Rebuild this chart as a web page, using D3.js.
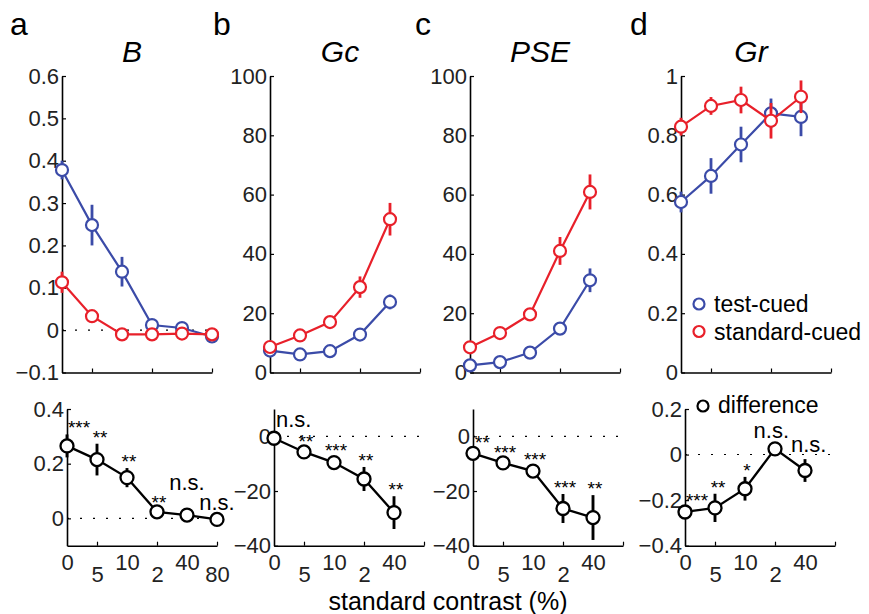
<!DOCTYPE html>
<html>
<head>
<meta charset="utf-8">
<script src="https://cdn.jsdelivr.net/npm/d3@7"></script>
<style>
body { margin: 0; background: #fff; }
svg { font-family: "Liberation Sans", Arial, Helvetica, sans-serif; }
</style>
</head>
<body>
<svg id="chart" width="869" height="614"></svg>
<script>
// standard contrast tick labels (as printed)
const contrastLabelsA = ["0", "5", "10", "2", "40", "80"]
const contrastLabels = ["0", "5", "10", "2", "40"]

// a: B
const testB = [0.378, 0.248, 0.138, 0.012, 0.005, -0.015]
const testBErr = [0.022, 0.048, 0.035, 0.008, 0.006, 0.006]
const stdB = [0.113, 0.033, -0.010, -0.010, -0.008, -0.010]
const stdBErr = [0.025, 0.008, 0.006, 0.006, 0.006, 0.006]
const diffB = [0.265, 0.215, 0.149, 0.024, 0.012, -0.004]
const diffBErr = [0.042, 0.058, 0.035, 0.010, 0.008, 0.008]
const sigB = ["***", "**", "**", "**", "n.s.", "n.s."]
const ticksB = [-0.1, 0, 0.1, 0.2, 0.3, 0.4, 0.5, 0.6]
const ticksBDiff = [0, 0.2, 0.4]

// b: Gc
const testGc = [7.4, 6.1, 7.2, 12.8, 23.8]
const testGcErr = [1.0, 1.0, 1.2, 1.5, 2.5]
const stdGc = [8.6, 12.5, 17.0, 28.8, 51.7]
const stdGcErr = [1.2, 1.2, 1.5, 3.6, 5.5]
const diffGc = [-0.7, -5.7, -9.6, -15.6, -27.9]
const diffGcErr = [1.5, 1.5, 2.0, 4.4, 6.0]
const sigGc = ["n.s.", "**", "***", "**", "**"]

// c: PSE
const testPSE = [2.4, 3.5, 6.7, 14.8, 31.1]
const testPSEErr = [1.0, 1.0, 1.0, 1.5, 4.0]
const stdPSE = [8.5, 13.3, 19.6, 41.0, 60.9]
const stdPSEErr = [1.0, 1.2, 1.2, 4.7, 5.9]
const diffPSE = [-6.2, -9.7, -12.7, -26.4, -29.7]
const diffPSEErr = [1.5, 1.5, 2.0, 5.3, 8.2]
const sigPSE = ["**", "***", "***", "***", "**"]

const ticksG = [0, 20, 40, 60, 80, 100]
const ticksGDiff = [-40, -20, 0]

// d: Gr
const testGr = [0.575, 0.663, 0.769, 0.874, 0.862]
const testGrErr = [0.035, 0.060, 0.060, 0.050, 0.065]
const stdGr = [0.829, 0.899, 0.919, 0.849, 0.930]
const stdGrErr = [0.030, 0.030, 0.045, 0.060, 0.055]
const diffGr = [-0.252, -0.234, -0.150, 0.025, -0.070]
const diffGrErr = [0.020, 0.062, 0.052, 0.015, 0.050]
const sigGr = ["***", "**", "*", "n.s.", "n.s."]
const ticksGr = [0, 0.2, 0.4, 0.6, 0.8, 1]
const ticksGrDiff = [-0.4, -0.2, 0, 0.2]

const panels = [
    { letter: "a", title: "B", labels: contrastLabelsA,
      topDomain: [-0.1, 0.6], topTicks: ticksB, botDomain: [-0.1, 0.4], botTicks: ticksBDiff,
      test: testB, testErr: testBErr, std: stdB, stdErr: stdBErr, diff: diffB, diffErr: diffBErr, sig: sigB },
    { letter: "b", title: "Gc", labels: contrastLabels,
      topDomain: [0, 100], topTicks: ticksG, botDomain: [-40, 10], botTicks: ticksGDiff,
      test: testGc, testErr: testGcErr, std: stdGc, stdErr: stdGcErr, diff: diffGc, diffErr: diffGcErr, sig: sigGc },
    { letter: "c", title: "PSE", labels: contrastLabels,
      topDomain: [0, 100], topTicks: ticksG, botDomain: [-40, 10], botTicks: ticksGDiff,
      test: testPSE, testErr: testPSEErr, std: stdPSE, stdErr: stdPSEErr, diff: diffPSE, diffErr: diffPSEErr, sig: sigPSE },
    { letter: "d", title: "Gr", labels: contrastLabels,
      topDomain: [0, 1], topTicks: ticksGr, botDomain: [-0.4, 0.2], botTicks: ticksGrDiff,
      test: testGr, testErr: testGrErr, std: stdGr, stdErr: stdGrErr, diff: diffGr, diffErr: diffGrErr, sig: sigGr }
]

const blue = "#3b4ba8"
const red = "#e8202a"

const svg = d3.select("#chart")

// layout
const topY = [372.5, 76]
const botY = [545.7, 409]
const topX = [62, 270, 470, 681]
const botX = [67, 274, 473, 685]
const panelW = 150
const letterX = [10, 213, 415, 630]

const fmt = d3.format("~g")

const drawAxes = (x, y, ticks) => {
    const x0 = x.range()[0]
    const yb = y.range()[0]

    const yAxisG = svg.append("g")
        .attr("transform", `translate(${x0},0)`)
        .call(d3.axisLeft(y).tickValues(ticks).tickSize(-4).tickSizeOuter(0).tickPadding(3).tickFormat(fmt))
    yAxisG.selectAll("text").attr("font-size", 22).attr("fill", "#222")

    const xAxisG = svg.append("g")
        .attr("transform", `translate(0,${yb})`)
        .call(d3.axisBottom(x).tickValues([1, 3, 5]).tickSize(-4).tickSizeOuter(0).tickFormat(""))

    ;[yAxisG, xAxisG].forEach(a => {
        a.select(".domain").attr("stroke-width", 1.6)
        a.selectAll(".tick line").attr("stroke-width", 1.2)
    })

    const d = y.domain()
    if (d[0] < 0 && d[1] > 0) {
        svg.append("line")
            .attr("x1", x0).attr("x2", x.range()[1])
            .attr("y1", y(0)).attr("y2", y(0))
            .attr("stroke", "#000")
            .attr("stroke-width", 1.1)
            .attr("stroke-dasharray", "2,11")
    }
}

const drawSeries = (x, y, vals, errs, color, r, sw) => {
    const g = svg.append("g")
    g.selectAll("line")
        .data(vals)
        .enter()
        .append("line")
        .attr("x1", (d, i) => x(i))
        .attr("x2", (d, i) => x(i))
        .attr("y1", (d, i) => y(d - errs[i]))
        .attr("y2", (d, i) => y(d + errs[i]))
        .attr("stroke", color)
        .attr("stroke-width", sw + 0.6)

    const lineGenerator = d3.line()
        .x((d, i) => x(i))
        .y(d => y(d))

    g.append("path")
        .attr("d", lineGenerator(vals))
        .attr("fill", "none")
        .attr("stroke", color)
        .attr("stroke-width", sw)

    g.selectAll("circle")
        .data(vals)
        .enter()
        .append("circle")
        .attr("cx", (d, i) => x(i))
        .attr("cy", d => y(d))
        .attr("r", r)
        .attr("fill", "#fff")
        .attr("stroke", color)
        .attr("stroke-width", sw)
}

// boxes touch (a little slack on the vertical side)
const hit = (a, b) => a.x + a.width > b.x && b.x + b.width > a.x &&
    a.y < b.y + b.height - 6 && b.y < a.y + a.height - 6

const drawSig = (x, y, p) => {
    const x0 = x.range()[0]
    const texts = svg.append("g").selectAll("text")
        .data(p.sig)
        .enter()
        .append("text")
        .attr("text-anchor", "middle")
        .attr("font-size", d => d === "n.s." ? 22 : 19)
        .attr("x", (d, i) => x(i) + (d === "n.s." ? 0 : 2))
        .attr("y", (d, i) => y(p.diff[i] + p.diffErr[i]) - (d === "n.s." ? 7 : 0))
        .text(d => d)

    const nodes = texts.nodes()
    const shift = (n, dx) => n.setAttribute("x", +n.getAttribute("x") + dx)
    nodes.forEach(n => {
        const b = n.getBBox()
        if (b.x < x0 + 2) shift(n, x0 + 2 - b.x)
    })
    for (let i = 0; i < nodes.length - 1; i++) {
        const b1 = nodes[i].getBBox()
        const b2 = nodes[i + 1].getBBox()
        if (!hit(b1, b2)) continue
        const ox = b1.x + b1.width - b2.x
        shift(nodes[i], -(ox / 2 + 1))
        shift(nodes[i + 1], ox / 2 + 1)
        if (i > 0 && hit(nodes[i - 1].getBBox(), nodes[i].getBBox())) {
            // no room sideways: put it above its neighbour instead
            shift(nodes[i], ox / 2 + 1)
            shift(nodes[i + 1], -(ox / 2 + 1))
            const up = (b1.y + b1.height - 6) - b2.y + 1
            nodes[i].setAttribute("y", +nodes[i].getAttribute("y") - up)
        }
    }
}

panels.forEach((p, k) => {
    // top: test-cued vs standard-cued
    const xT = d3.scaleLinear().domain([0, 5]).range([topX[k], topX[k] + panelW])
    const yT = d3.scaleLinear().domain(p.topDomain).range(topY)
    drawAxes(xT, yT, p.topTicks)
    drawSeries(xT, yT, p.test, p.testErr, blue, 6, 2.2)
    drawSeries(xT, yT, p.std, p.stdErr, red, 6, 2.2)

    // bottom: difference
    const xB = d3.scaleLinear().domain([0, 5]).range([botX[k], botX[k] + panelW])
    const yB = d3.scaleLinear().domain(p.botDomain).range(botY)
    drawAxes(xB, yB, p.botTicks)
    drawSeries(xB, yB, p.diff, p.diffErr, "#000", 6.5, 2.3)
    drawSig(xB, yB, p)

    // staggered contrast labels
    const lab = svg.append("g")
        .attr("transform", `translate(0,${botY[0]})`)
        .call(d3.axisBottom(xB).tickValues(d3.range(p.labels.length)).tickSize(0).tickFormat(i => p.labels[i]))
    lab.select(".domain").remove()
    lab.selectAll("text")
        .attr("font-size", 22)
        .attr("fill", "#222")
        .attr("dy", 0)
        .attr("y", (d, i) => i % 2 === 0 ? 24 : 36.5)

    // panel letter and title
    svg.append("text")
        .attr("x", letterX[k])
        .attr("y", 35)
        .attr("font-size", 32)
        .text(p.letter)

    svg.append("text")
        .attr("x", topX[k] + 70)
        .attr("y", 62)
        .attr("text-anchor", "middle")
        .attr("font-size", 30)
        .attr("font-style", "italic")
        .text(p.title)
})

// legends
const legX = topX[3] + 18
const legend = [["test-cued", blue, 304], ["standard-cued", red, 331.5]]
legend.forEach(([name, color, ly]) => {
    svg.append("circle")
        .attr("cx", legX).attr("cy", ly).attr("r", 5.5)
        .attr("fill", "#fff").attr("stroke", color).attr("stroke-width", 2.2)
    svg.append("text")
        .attr("x", legX + 15).attr("y", ly + 8)
        .attr("font-size", 23)
        .text(name)
})

svg.append("circle")
    .attr("cx", botX[3] + 18).attr("cy", 406).attr("r", 5.5)
    .attr("fill", "#fff").attr("stroke", "#000").attr("stroke-width", 2.2)
svg.append("text")
    .attr("x", botX[3] + 33).attr("y", 413)
    .attr("font-size", 23)
    .text("difference")

svg.append("text")
    .attr("x", 448)
    .attr("y", 609.5)
    .attr("text-anchor", "middle")
    .attr("font-size", 25)
    .text("standard contrast (%)")
</script>
</body>
</html>
